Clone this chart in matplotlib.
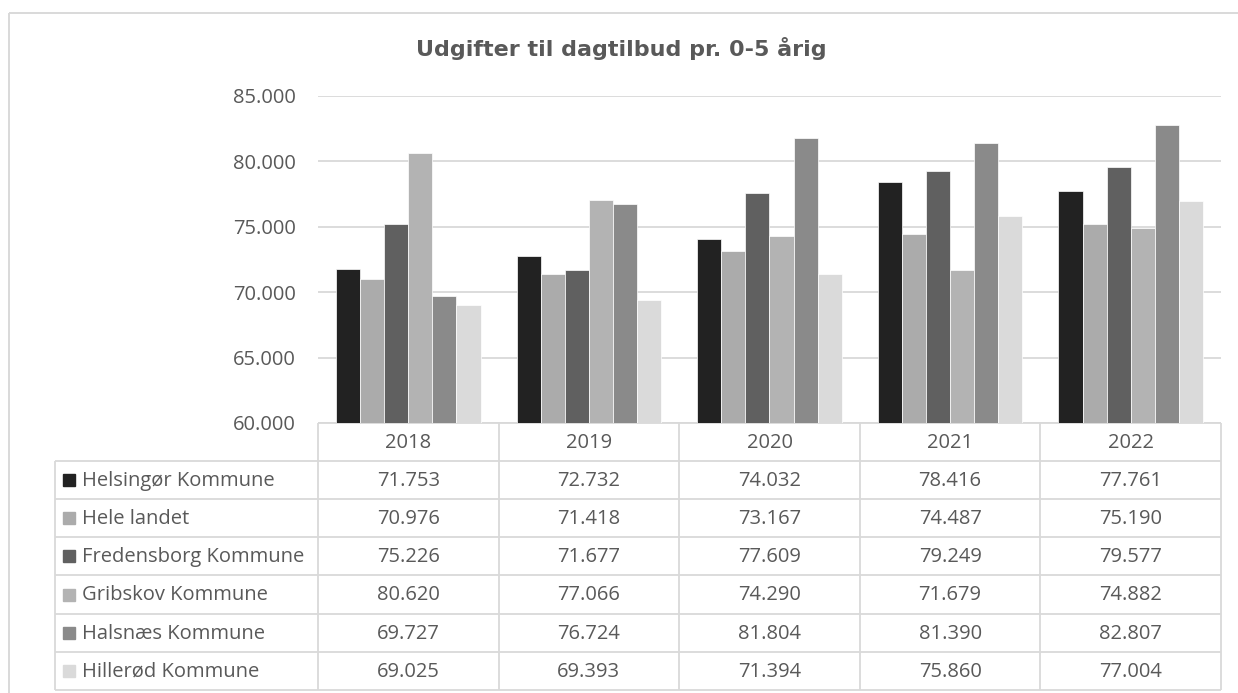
import numpy as np
import matplotlib
matplotlib.use('Agg')
import matplotlib.pyplot as plt
from matplotlib.patches import Rectangle

years = ['2018', '2019', '2020', '2021', '2022']
series_names = ['Helsingør Kommune', 'Hele landet', 'Fredensborg Kommune',
                'Gribskov Kommune', 'Halsnæs Kommune', 'Hillerød Kommune']
helsingor = [71753, 72732, 74032, 78416, 77761]
hele_landet = [70976, 71418, 73167, 74487, 75190]
fredensborg = [75226, 71677, 77609, 79249, 79577]
gribskov = [80620, 77066, 74290, 71679, 74882]
halsnaes = [69727, 76724, 81804, 81390, 82807]
hillerod = [69025, 69393, 71394, 75860, 77004]
series_values = [helsingor, hele_landet, fredensborg, gribskov, halsnaes, hillerod]
colors = ['#222222', '#ABABAB', '#606060', '#B3B3B3', '#8A8A8A', '#DADADA']
title = 'Udgifter til dagtilbud pr. 0-5 årig'

TXT = '#595959'
GRID = '#D9D9D9'
FONT = 'Open Sans'
FS = 14.5


def fmt(v):
    return f'{v:,.0f}'.replace(',', '.')


W, H = 1238, 693
fig = plt.figure(figsize=(W / 100, H / 100), dpi=100)

# overlay in pixel coords for border and data table
ov = fig.add_axes([0, 0, 1, 1])
ov.set_xlim(0, W)
ov.set_ylim(H, 0)
ov.axis('off')
ov.add_patch(Rectangle((9, 13), 1300, 800, fill=False, edgecolor=GRID, lw=1.4))

left, right, top, bottom = 318, 1221, 96, 423
ax = fig.add_axes([left / W, 1 - bottom / H, (right - left) / W, (bottom - top) / H])
x = np.arange(len(years))
n = len(series_values)
bw = 0.8 / n
for i, (vals, c) in enumerate(zip(series_values, colors)):
    ax.bar(x + (i - (n - 1) / 2) * bw, np.array(vals) - 60000, bw, bottom=60000,
           color=c, edgecolor='white', linewidth=0.5, zorder=3)
ax.set_xlim(-0.5, len(years) - 0.5)
ax.set_ylim(60000, 85000)
ax.set_yticks(range(60000, 85001, 5000))
ax.set_yticklabels([fmt(v) for v in range(60000, 85001, 5000)],
                   fontsize=FS, color=TXT, family=FONT)
ax.set_xticks([])
ax.tick_params(axis='y', length=0, pad=16)
ax.grid(axis='y', color=GRID, lw=1.3, zorder=0)
for s in ax.spines.values():
    s.set_visible(False)
ax.patch.set_alpha(0)

fig.text(0.502, 1 - 48 / H, title, ha='center', va='center', fontsize=16,
         fontweight='bold', color=TXT, family='DejaVu Sans')

# data table
col_x = np.linspace(left, right, len(years) + 1)
row_y = [423, 461, 499, 537, 575, 614, 652, 690]
lab_x = 55
lk = dict(color=GRID, lw=1.3, solid_capstyle='butt')
ov.plot([left, right], [row_y[0], row_y[0]], **lk)
for yy in row_y[1:]:
    ov.plot([lab_x, right], [yy, yy], **lk)
for xx in col_x:
    ov.plot([xx, xx], [row_y[0], row_y[-1]], **lk)
ov.plot([lab_x, lab_x], [row_y[1], row_y[-1]], **lk)

for j, yr in enumerate(years):
    ov.text((col_x[j] + col_x[j + 1]) / 2, (row_y[0] + row_y[1]) / 2 + 1, yr,
            ha='center', va='center', fontsize=FS, color=TXT, family=FONT)
for i, (name, vals, c) in enumerate(zip(series_names, series_values, colors)):
    yc = (row_y[i + 1] + row_y[i + 2]) / 2 + 1
    ov.add_patch(Rectangle((63, yc - 7), 12, 12, color=c))
    ov.text(82, yc, name, ha='left', va='center', fontsize=FS, color=TXT, family=FONT)
    for j, v in enumerate(vals):
        ov.text((col_x[j] + col_x[j + 1]) / 2, yc, fmt(v), ha='center', va='center',
                fontsize=FS, color=TXT, family=FONT)

fig.savefig('out.png', dpi=100, facecolor='white')
